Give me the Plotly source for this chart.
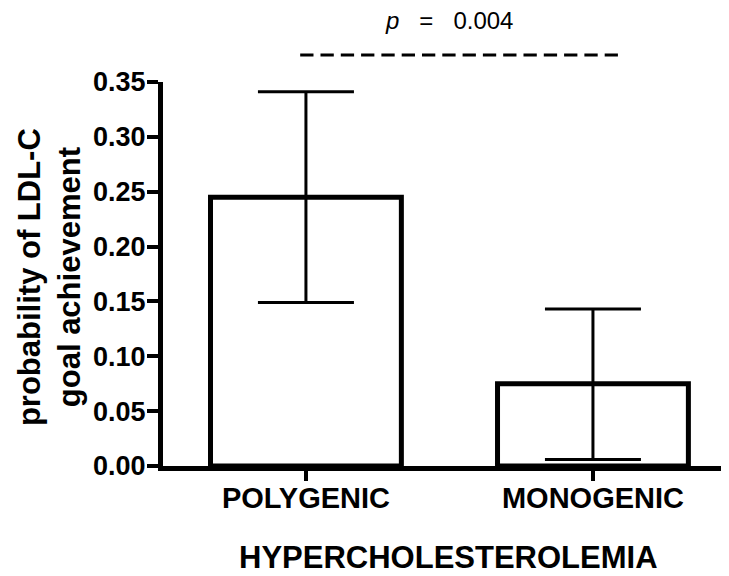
import plotly.graph_objects as go

categories = ["POLYGENIC", "MONOGENIC"]
probability = [0.245, 0.075]
err_upper = [0.341, 0.143]
err_lower = [0.149, 0.006]
y_ticks = [0.00, 0.05, 0.10, 0.15, 0.20, 0.25, 0.30, 0.35]
p_label = "<i>p</i>&nbsp;&nbsp; =&nbsp;&nbsp; 0.004"
x_title = "HYPERCHOLESTEROLEMIA"
y_title = "probability of LDL-C<br>goal achievement"

err_plus = [u - v for u, v in zip(err_upper, probability)]
err_minus = [v - l for v, l in zip(probability, err_lower)]

FONT = "Liberation Sans, Arial, sans-serif"

fig = go.Figure()
fig.add_trace(go.Bar(
    x=categories,
    y=probability,
    width=0.665,
    marker=dict(color="white", line=dict(color="black", width=5)),
    error_y=dict(type="data", array=err_plus, arrayminus=err_minus,
                 color="black", thickness=3, width=48),
    showlegend=False,
))

# significance bracket (dashed line) above the bars
fig.add_shape(type="line", xref="x", yref="paper",
              x0=-0.02, x1=1.087, y0=1.07, y1=1.07,
              line=dict(color="black", width=3, dash="13.3px,7px"))
fig.add_annotation(xref="x", yref="paper", x=0.5, y=1.16,
                   yanchor="middle", xanchor="center",
                   text=p_label, showarrow=False,
                   font=dict(family=FONT, size=24, color="black"))

# axis titles
fig.add_annotation(xref="paper", yref="paper", x=0.505, y=-0.237,
                   xanchor="center", yanchor="middle", showarrow=False,
                   text="<b>" + x_title + "</b>",
                   font=dict(family=FONT, size=31, color="black"))
fig.add_annotation(xref="paper", yref="paper", x=-0.2014, y=0.492,
                   xanchor="center", yanchor="middle", showarrow=False,
                   textangle=-90,
                   text="<b>" + y_title + "</b>",
                   font=dict(family=FONT, size=31, color="black"))

fig.update_layout(
    width=721, height=568,
    margin=dict(l=155, r=0, t=74, b=110),
    plot_bgcolor="white", paper_bgcolor="white",
    font=dict(family=FONT, color="black"),
    bargap=0.335,
)
fig.update_xaxes(
    range=[-0.498, 1.474], automargin=False,
    showline=True, linecolor="black", linewidth=5,
    ticks="outside", ticklen=10, tickwidth=4, tickcolor="black",
    ticklabelstandoff=-8,
    tickfont=dict(family=FONT, size=29, color="black", weight="bold"),
    showgrid=False, zeroline=False,
)
fig.update_yaxes(
    range=[0, 0.35], automargin=False,
    tickvals=y_ticks, tickformat=".2f",
    showline=True, linecolor="black", linewidth=5,
    ticks="outside", ticklen=11, tickwidth=4, tickcolor="black",
    ticklabelstandoff=-4,
    tickfont=dict(family=FONT, size=27, color="black", weight="bold"),
    showgrid=False, zeroline=False,
)

fig.write_html("out.html")
